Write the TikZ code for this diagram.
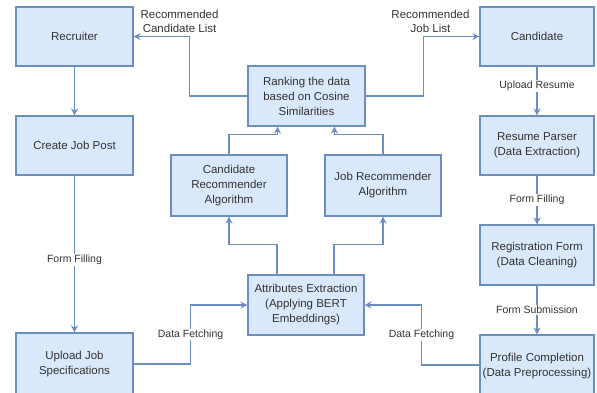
\documentclass[tikz,border=0pt]{standalone}
\usepackage{fontspec}
\setmainfont{Liberation Sans}
\usetikzlibrary{arrows.meta}
\definecolor{boxfill}{HTML}{DAE8FC}
\definecolor{boxline}{HTML}{6C8EBF}
\definecolor{txt}{HTML}{333333}
\tikzset{
  box/.style={draw=boxline, fill=boxfill, line width=1.1pt, minimum width=117pt, minimum height=59pt, inner sep=0pt, align=center, text=txt, font=\fontsize{11.5}{15}\selectfont},
  arr/.style={draw=boxline, line width=1.3pt, -{Stealth[length=7pt,width=7pt]}},
  lbl/.style={fill=white, text=txt, inner sep=1pt, font=\fontsize{10.5}{13}\selectfont},
  toplbl/.style={text=txt, align=center, inner sep=0pt, font=\fontsize{11.5}{14}\selectfont}
}
\begin{document}
\begin{tikzpicture}[x=1pt,y=-1pt]
\useasboundingbox[fill=white] (0,0) rectangle (597,393);
\node[box] (recruiter) at (74.5,36.5) {Recruiter};
\node[box] (createjob) at (74.5,145.5) {Create Job Post};
\node[box, minimum height=62pt] (upload) at (74.5,364) {Upload Job\\Specifications};
\node[box, minimum width=114pt] (candidate) at (537,36.5) {Candidate};
\node[box, minimum width=114pt] (parser) at (537,145.5) {Resume Parser\\(Data Extraction)};
\node[box, minimum width=114pt, minimum height=60pt] (regform) at (537,255) {Registration Form\\(Data Cleaning)};
\node[box, minimum width=114pt, minimum height=62pt] (profile) at (537,366) {Profile Completion\\(Data Preprocessing)};
\node[box, minimum height=60pt] (ranking) at (306.5,96) {Ranking the data\\based on Cosine\\Similarities};
\node[box, minimum width=116pt, minimum height=61pt] (candrec) at (229,185.5) {Candidate\\Recommender\\Algorithm};
\node[box, minimum width=116pt, minimum height=61pt] (jobrec) at (383,185.5) {Job Recommender\\Algorithm};
\node[box, minimum width=116pt, minimum height=60pt] (attr) at (306,305) {Attributes Extraction\\(Applying BERT\\Embeddings)};

\draw[arr] (recruiter) -- (createjob);
\draw[arr] (createjob) -- node[lbl, pos=0.54] {Form Filling} (upload.north);
\draw[arr] (candidate) -- node[lbl, pos=0.4] {Upload Resume} (parser);
\draw[arr] (parser) -- node[lbl] {Form Filling} (regform);
\draw[arr] (regform) -- node[lbl] {Form Submission} (profile.north);

\draw[arr] (upload.east) -- ++(57,0) |- node[lbl, pos=0.25] {Data Fetching} (attr.west);
\draw[arr] (profile.west |- 0,365) -- ++(-58,0) |- node[lbl, pos=0.25] {Data Fetching} (attr.east);

\draw[arr] ([xshift=-29pt]attr.north) -- ++(0,-30) -| (candrec.south);
\draw[arr] ([xshift=28pt]attr.north) -- ++(0,-30) -| (jobrec.south);
\draw[arr] (candrec.north) -- ++(0,-20) -| ([xshift=-29pt]ranking.south);
\draw[arr] (jobrec.north) -- ++(0,-20) -| ([xshift=28pt]ranking.south);

\draw[arr] (ranking.west) -- ++(-58,0) |- (recruiter.east);
\draw[arr] (ranking.east) -- ++(58,0) |- (candidate.west);

\node[toplbl] (reccand) at ([xshift=46pt,yshift=15pt]recruiter.east) {Recommended\\Candidate List};
\node[toplbl] (recjob) at ([xshift=-49pt,yshift=15pt]candidate.west) {Recommended\\Job List};
\end{tikzpicture}
\end{document}
